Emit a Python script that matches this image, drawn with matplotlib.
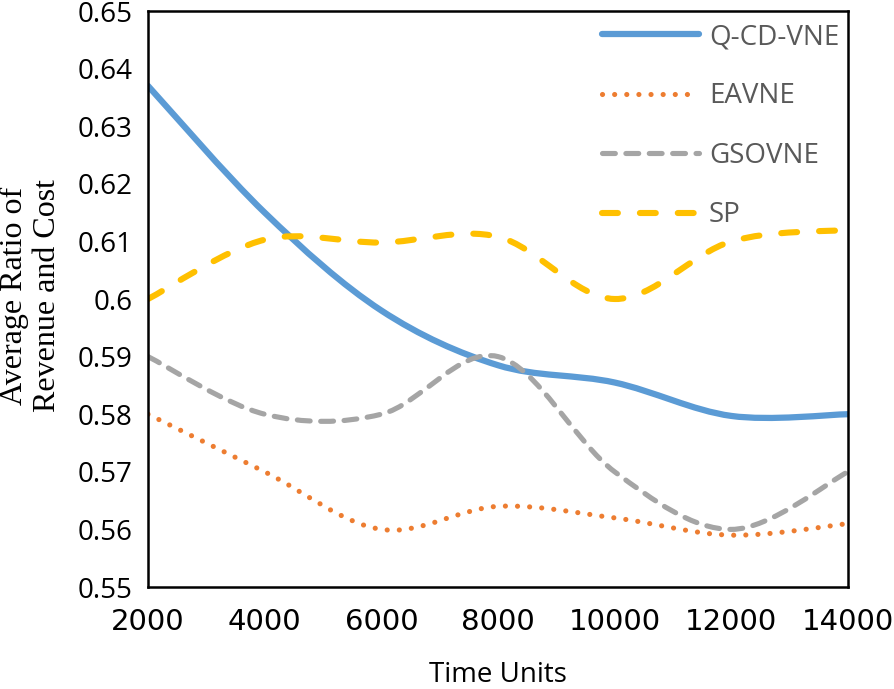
import matplotlib
matplotlib.use("Agg")
import matplotlib.pyplot as plt
from matplotlib.path import Path
from matplotlib.patches import PathPatch

# 数据
time_units = [2000, 4000, 6000, 8000, 10000, 12000, 14000]
q_cd_vne = [0.637, 0.615, 0.598, 0.5885, 0.5855, 0.5797, 0.580]
eavne = [0.580, 0.570, 0.560, 0.564, 0.562, 0.559, 0.561]
gsovne = [0.590, 0.580, 0.580, 0.590, 0.570, 0.560, 0.570]
sp = [0.600, 0.6103, 0.6098, 0.6108, 0.600, 0.610, 0.612]

y_ticks = [0.55, 0.56, 0.57, 0.58, 0.59, 0.6, 0.61, 0.62, 0.63, 0.64, 0.65]
y_tick_labels = ["0.55", "0.56", "0.57", "0.58", "0.59", "0.6",
                 "0.61", "0.62", "0.63", "0.64", "0.65"]


def smooth_path(xs, ys):
    # Excel 风格的平滑线：用三次贝塞尔曲线连接各点
    pts = list(zip(xs, ys))
    n = len(pts)
    verts = [pts[0]]
    codes = [Path.MOVETO]
    for i in range(n - 1):
        p0 = pts[i - 1] if i > 0 else pts[i]
        p1 = pts[i]
        p2 = pts[i + 1]
        p3 = pts[i + 2] if i + 2 < n else pts[i + 1]
        c1 = (p1[0] + (p2[0] - p0[0]) / 6, p1[1] + (p2[1] - p0[1]) / 6)
        c2 = (p2[0] - (p3[0] - p1[0]) / 6, p2[1] - (p3[1] - p1[1]) / 6)
        verts += [c1, c2, p2]
        codes += [Path.CURVE4] * 3
    return Path(verts, codes)


fig = plt.figure(figsize=(8.95, 6.89), dpi=100)
ax = fig.add_axes([148 / 895, 1 - 587 / 689, 700 / 895, 576 / 689])

series = [
    ("Q-CD-VNE", q_cd_vne, dict(color="#5B9BD5", lw=4.5, ls="-")),
    ("EAVNE", eavne, dict(color="#ED7D31", lw=3.7, ls=(0, (0.01, 2.35)))),
    ("GSOVNE", gsovne, dict(color="#A5A5A5", lw=3.7, ls=(0, (2.5, 2.05)))),
    ("SP", sp, dict(color="#FFC000", lw=4.4, ls=(0, (2.6, 3.6)))),
]

for name, vals, st in series:
    patch = PathPatch(smooth_path(time_units, vals), fill=False,
                      edgecolor=st["color"], lw=st["lw"], linestyle=st["ls"],
                      capstyle="round", joinstyle="round")
    ax.add_patch(patch)
    # 图例用的代理线
    ax.plot([], [], color=st["color"], lw=st["lw"], ls=st["ls"],
            dash_capstyle="round", solid_capstyle="round", label=name)

ax.set_xlim(2000, 14000)
ax.set_ylim(0.55, 0.65)
ax.set_xticks(time_units)
ax.set_xticklabels([str(t) for t in time_units], fontfamily="DejaVu Sans", fontsize=21)
ax.set_yticks(y_ticks)
ax.set_yticklabels(y_tick_labels, fontfamily="Open Sans", fontsize=20)
ax.tick_params(axis="both", length=0, colors="black")
ax.tick_params(axis="y", pad=11)
ax.tick_params(axis="x", pad=15)

for sp_ in ax.spines.values():
    sp_.set_linewidth(1.8)
    sp_.set_color("black")

ax.set_xlabel("Time Units", fontfamily="Open Sans", fontsize=20, labelpad=18)

fig.text(31 / 895, 1 - 296 / 689, "Average Ratio of\nRevenue and Cost",
         rotation=90, ha="center", va="center", family="Liberation Serif",
         fontsize=23, linespacing=1.15)

leg = ax.legend(loc="upper left", bbox_to_anchor=(0.6486, 0.979),
                frameon=False, borderpad=0, borderaxespad=0,
                handlelength=3.5, handletextpad=0.35, labelspacing=1.13,
                prop={"family": "Open Sans", "size": 20})
for t in leg.get_texts():
    t.set_color("#595959")

fig.savefig("out.png", dpi=100)
